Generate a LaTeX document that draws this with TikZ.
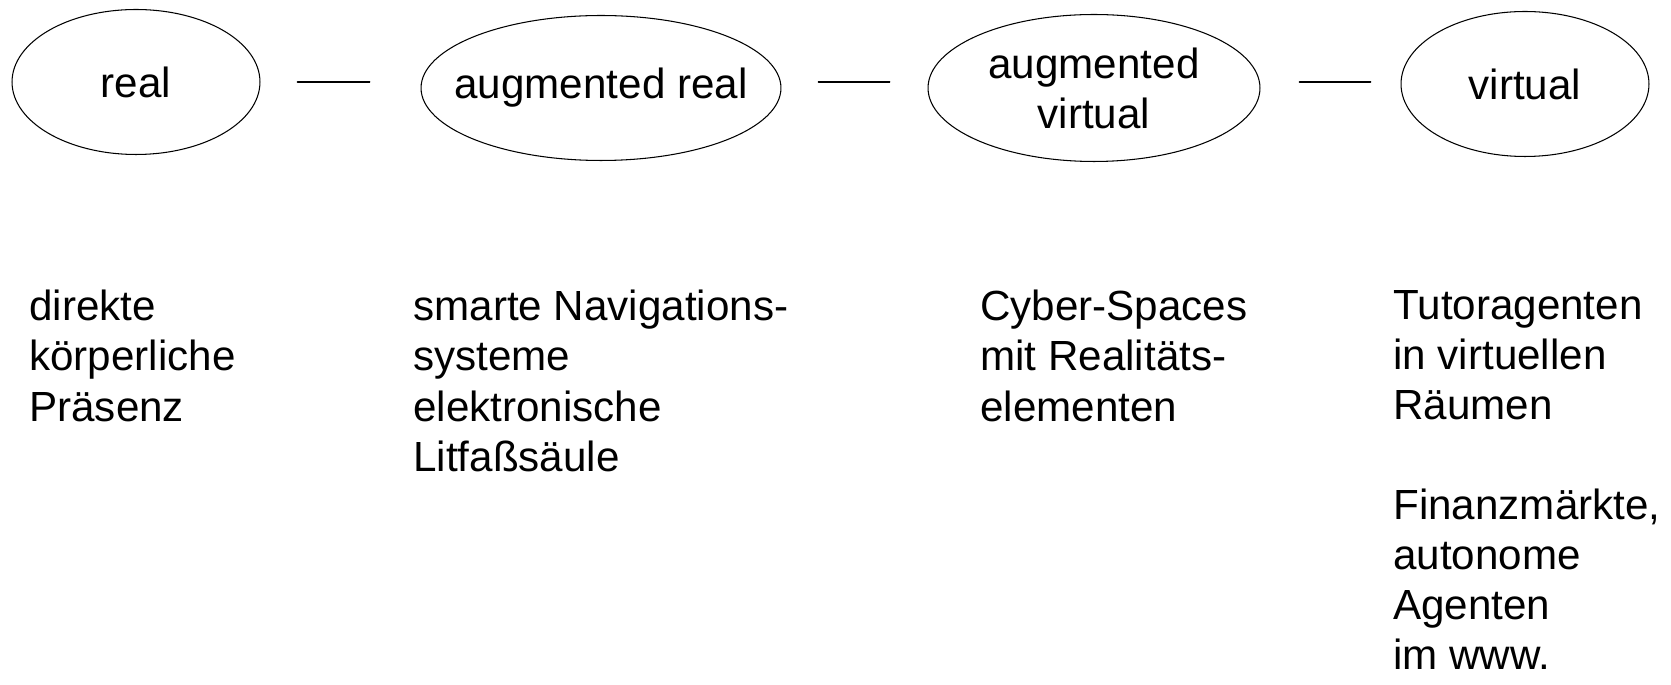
\documentclass[tikz,border=0pt]{standalone}
\usepackage{fontspec}
\setmainfont{Liberation Sans}
\usetikzlibrary{shapes.geometric}

\begin{document}
\begin{tikzpicture}[x=0.02cm,y=-0.02cm, font=\fontsize{24}{28.5}\selectfont, line join=round, line cap=round,
  stage/.style={draw, ellipse, line width=.6pt, inner sep=0pt},
  link/.style={line width=1.1pt},
  note/.style={anchor=north west, align=left, inner sep=0pt}]
\useasboundingbox (0,0) rectangle (1671,685);
% the four stages
\node[stage, minimum width=4.96cm, minimum height=2.9cm, label=center:real] (real) at (136,82) {};
\node[stage, minimum width=7.2cm, minimum height=2.9cm, label=center:augmented real] (augreal) at (601,88) {};
\node[stage, minimum width=6.64cm, minimum height=2.94cm, label={[align=center]center:augmented\\virtual}] (augvirt) at (1094,88) {};
\node[stage, minimum width=4.96cm, minimum height=2.9cm, label=center:virtual] (virt) at (1525,84) {};
% short dashes between the stages, all at the height of the first one
\draw[link, shorten <=0.74cm, shorten >=1.02cm] (real.east) -- (real.east -| augreal.west);
\draw[link, shorten <=0.74cm, shorten >=0.76cm] (augreal.east |- real.east) -- (augvirt.west |- real.east);
\draw[link, shorten <=0.78cm, shorten >=0.6cm] (augvirt.east |- real.east) -- (virt.west |- real.east);
% examples below each stage
\node[note] (realex) at (29,290) {direkte\\körperliche\\Präsenz};
\node[note] (augrealex) at (413,290) {smarte Navigations-\\systeme\\elektronische\\Litfaßsäule};
\node[note] (augvirtex) at (980,290) {Cyber-Spaces\\mit Realitäts-\\elementen};
\node[note] (virtex) at (1393,290) {Tutoragenten\\in virtuellen\\Räumen\\[\baselineskip]Finanzmärkte,\\autonome\\Agenten\\im www.};
\end{tikzpicture}
\end{document}
